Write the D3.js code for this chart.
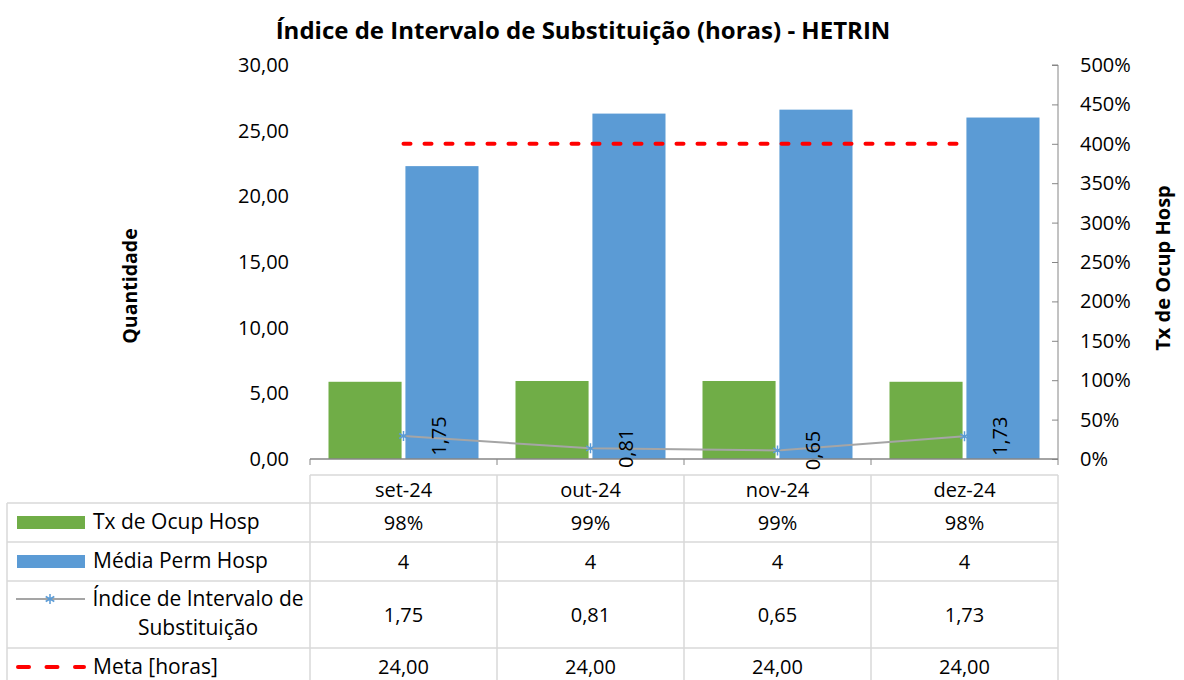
<!DOCTYPE html>
<html>
<head>
<meta charset="utf-8">
<script src="https://cdn.jsdelivr.net/npm/d3@7"></script>
<style>
  body { margin: 0; background: #fff; }
  svg { display: block; font-family: "Open Sans", sans-serif; }
</style>
</head>
<body>
<svg id="chart" width="1184" height="680"></svg>
<script>
// data
const months = ['set-24', 'out-24', 'nov-24', 'dez-24'];
const txOcup = [0.98, 0.99, 0.99, 0.98];          // right axis
const mediaPermBars = [22.3, 26.3, 26.6, 26.0];   // bar heights on left axis
const mediaPermLabels = ['4', '4', '4', '4'];     // values shown in table
const indice = [1.75, 0.81, 0.65, 1.73];
const meta = [24, 24, 24, 24];
const leftTicks = [0, 5, 10, 15, 20, 25, 30];
const rightTicks = [0, 0.5, 1, 1.5, 2, 2.5, 3, 3.5, 4, 4.5, 5];

const colors = {
  green: '#70ad47',
  blue: '#5b9bd5',
  line: '#a5a5a5',
  meta: '#ff0000',
  grid: '#d9d9d9',
  axis: '#868686'
};

const fmtComma = d3.format('.2f');
const comma = v => fmtComma(v).replace('.', ',');
const pct = d3.format('.0%');

const svg = d3.select('#chart');
const plot = { left: 310, right: 1058, top: 65, bottom: 459 };

const x = d3.scaleBand().domain(months).range([plot.left, plot.right]).paddingInner(0).paddingOuter(0);
const inner = d3.scaleBand().domain([0, 1]).range([0, 150]).paddingInner(0.05);
const groupOffset = (x.bandwidth() - 150) / 2;
const yL = d3.scaleLinear().domain([0, 30]).range([plot.bottom, plot.top]);
const yR = d3.scaleLinear().domain([0, 5]).range([plot.bottom, plot.top]);

// title
svg.append('text')
  .attr('x', 583).attr('y', 39)
  .attr('text-anchor', 'middle')
  .style('font-size', '24px').style('font-weight', 'bold')
  .text('Índice de Intervalo de Substituição (horas) - HETRIN');

// left axis labels (no axis line)
svg.append('g').selectAll('text')
  .data(leftTicks)
  .join('text')
  .attr('x', 289).attr('y', d => yL(d))
  .attr('dy', '0.35em')
  .attr('text-anchor', 'end')
  .style('font-size', '20px')
  .text(d => comma(d));

svg.append('text')
  .attr('transform', `translate(137,286) rotate(-90)`)
  .attr('text-anchor', 'middle')
  .style('font-size', '19.5px').style('font-weight', 'bold')
  .text('Quantidade');

// right axis
const rightAxis = d3.axisLeft(yR).tickValues(rightTicks).tickSize(6).tickFormat('');
const gR = svg.append('g').attr('transform', `translate(${plot.right},0)`).call(rightAxis);
gR.select('.domain').attr('stroke', colors.axis).attr('d', `M-6,${plot.top}H0V${plot.bottom}`);
gR.selectAll('.tick line').attr('stroke', colors.axis);

svg.append('g').selectAll('text')
  .data(rightTicks)
  .join('text')
  .attr('x', 1080).attr('y', d => yR(d))
  .attr('dy', '0.35em')
  .style('font-size', '20px')
  .text(d => pct(d));

svg.append('text')
  .attr('transform', `translate(1170,268) rotate(-90)`)
  .attr('text-anchor', 'middle')
  .style('font-size', '20px').style('font-weight', 'bold')
  .text('Tx de Ocup Hosp');

// bars
svg.append('g').selectAll('rect')
  .data(months)
  .join('rect')
  .attr('x', d => x(d) + groupOffset + inner(0))
  .attr('width', inner.bandwidth())
  .attr('y', (d, i) => yR(txOcup[i]))
  .attr('height', (d, i) => plot.bottom - yR(txOcup[i]))
  .attr('fill', colors.green);

svg.append('g').selectAll('rect')
  .data(months)
  .join('rect')
  .attr('x', d => x(d) + groupOffset + inner(1))
  .attr('width', inner.bandwidth())
  .attr('y', (d, i) => yL(mediaPermBars[i]))
  .attr('height', (d, i) => plot.bottom - yL(mediaPermBars[i]))
  .attr('fill', colors.blue);

// baseline
svg.append('line')
  .attr('x1', plot.left).attr('x2', plot.right)
  .attr('y1', plot.bottom).attr('y2', plot.bottom)
  .attr('stroke', colors.axis).attr('stroke-width', 1.5);

const cx = d => x(d) + x.bandwidth() / 2;

// meta line
svg.append('path')
  .datum(meta)
  .attr('d', d3.line().x((d, i) => cx(months[i])).y(d => yL(d)))
  .attr('fill', 'none')
  .attr('stroke', colors.meta)
  .attr('stroke-width', 4)
  .attr('stroke-linecap', 'round')
  .attr('stroke-dasharray', '7,14');

// indice line
svg.append('path')
  .datum(indice)
  .attr('d', d3.line().x((d, i) => cx(months[i])).y(d => yL(d)))
  .attr('fill', 'none')
  .attr('stroke', colors.line)
  .attr('stroke-width', 2);

const star = 'M0,-5V5M-4.3,-2.5L4.3,2.5M-4.3,2.5L4.3,-2.5';
svg.append('g').selectAll('path')
  .data(indice)
  .join('path')
  .attr('transform', (d, i) => `translate(${cx(months[i])},${yL(d)})`)
  .attr('d', star)
  .attr('stroke', colors.blue)
  .attr('stroke-width', 1.5)
  .attr('fill', 'none');

svg.append('g').selectAll('text')
  .data(indice)
  .join('text')
  .attr('transform', (d, i) => `translate(${cx(months[i]) + 35},${yL(d)}) rotate(-90)`)
  .attr('text-anchor', 'middle')
  .attr('dy', '0.35em')
  .style('font-size', '20px')
  .text(d => comma(d));

// data table
const rows = [
  { top: 503, bottom: 542, values: txOcup.map(pct) },
  { top: 542, bottom: 581, values: mediaPermLabels },
  { top: 581, bottom: 648, values: indice.map(comma) },
  { top: 648, bottom: 700, values: meta.map(comma) }
];
const table = svg.append('g').attr('stroke', colors.grid).attr('stroke-width', 1.5);
// header top line and verticals
table.append('line').attr('x1', plot.left).attr('x2', plot.right).attr('y1', 475).attr('y2', 475);
const vlines = months.map(m => x(m)).concat([plot.right]);
table.selectAll('line.v')
  .data(vlines)
  .join('line')
  .attr('class', 'v')
  .attr('x1', d => d).attr('x2', d => d)
  .attr('y1', 475).attr('y2', 700);
table.append('line').attr('x1', 7).attr('x2', 7).attr('y1', 503).attr('y2', 700);
table.selectAll('line.h')
  .data(rows)
  .join('line')
  .attr('class', 'h')
  .attr('x1', 7).attr('x2', plot.right)
  .attr('y1', d => d.top).attr('y2', d => d.top);

// category ticks below baseline
svg.append('g').selectAll('line')
  .data(vlines)
  .join('line')
  .attr('x1', d => d).attr('x2', d => d)
  .attr('y1', plot.bottom).attr('y2', plot.bottom + 6)
  .attr('stroke', colors.axis);

svg.append('g').selectAll('text')
  .data(months)
  .join('text')
  .attr('x', cx).attr('y', 490)
  .attr('dy', '0.35em')
  .attr('text-anchor', 'middle')
  .style('font-size', '20px')
  .text(d => d);

rows.forEach(r => {
  const mid = r.bottom === 700 ? 667 : (r.top + r.bottom) / 2;
  svg.append('g').selectAll('text')
    .data(r.values)
    .join('text')
    .attr('x', (d, i) => cx(months[i])).attr('y', mid)
    .attr('dy', '0.35em')
    .attr('text-anchor', 'middle')
    .style('font-size', '20px')
    .text(d => d);
});

// legend keys
const leg = svg.append('g');
leg.append('rect').attr('x', 17).attr('y', 516).attr('width', 68).attr('height', 13).attr('fill', colors.green);
leg.append('rect').attr('x', 17).attr('y', 555).attr('width', 68).attr('height', 13).attr('fill', colors.blue);
leg.append('line').attr('x1', 16).attr('x2', 85).attr('y1', 599).attr('y2', 599)
  .attr('stroke', colors.line).attr('stroke-width', 2);
leg.append('path').attr('transform', 'translate(50,599)').attr('d', star)
  .attr('stroke', colors.blue).attr('stroke-width', 1.5).attr('fill', 'none');
leg.append('line').attr('x1', 18).attr('x2', 84).attr('y1', 667).attr('y2', 667)
  .attr('stroke', colors.meta).attr('stroke-width', 4)
  .attr('stroke-linecap', 'round').attr('stroke-dasharray', '11,17.5');

const legText = (txt, xx, yy, anchor) => leg.append('text')
  .attr('x', xx).attr('y', yy).attr('dy', '0.35em')
  .attr('text-anchor', anchor || 'start')
  .style('font-size', '21px').text(txt);
legText('Tx de Ocup Hosp', 93, 522);
legText('Média Perm Hosp', 93, 561);
legText('Índice de Intervalo de', 198, 599, 'middle');
legText('Substituição', 198, 628, 'middle');
legText('Meta [horas]', 93, 667);
</script>
</body>
</html>
